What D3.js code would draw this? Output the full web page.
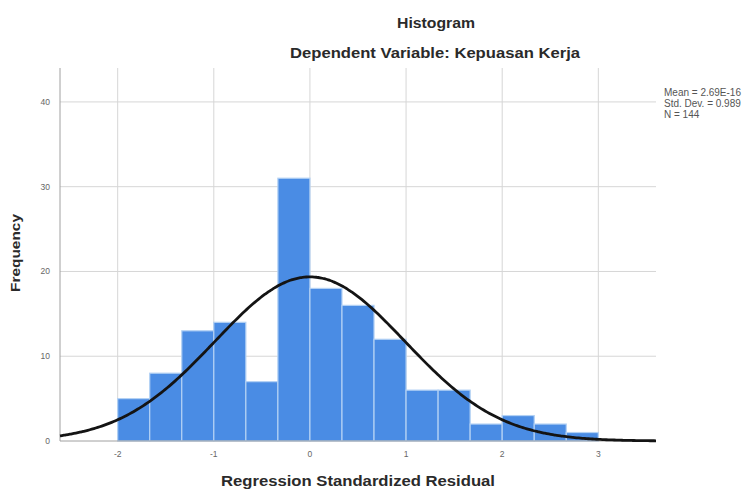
<!DOCTYPE html>
<html>
<head>
<meta charset="utf-8">
<script src="https://cdn.jsdelivr.net/npm/d3@7"></script>
<style>
  html, body { margin: 0; padding: 0; background: #fff; }
  svg { display: block; }
  text { font-family: "Liberation Sans", Arial, sans-serif; }
</style>
</head>
<body>
<svg id="chart" width="752" height="492"></svg>
<script>
// ---- data ----
const binStart = -2;
const binWidth = 1 / 3;
const counts = [5, 8, 13, 14, 7, 31, 18, 16, 12, 6, 6, 2, 3, 2, 1];
const xTicks = [-2, -1, 0, 1, 2, 3];
const yTicks = [0, 10, 20, 30, 40];
const fitMean = 2.69e-16;
const fitSd = 0.989;
const fitN = 144;
const legendLines = ["Mean = 2.69E-16", "Std. Dev. = 0.989", "N = 144"];
const titleText = "Histogram";
const subtitleText = "Dependent Variable: Kepuasan Kerja";
const xTitle = "Regression Standardized Residual";
const yTitle = "Frequency";

// ---- layout ----
const svg = d3.select("#chart");
const L = 60, R = 656, T = 68, B = 441;
const x = d3.scaleLinear().domain([-2.6, 3.6]).range([L, R]);
const y = d3.scaleLinear().domain([0, 44]).range([B, T]);

function fit(sel, w) {
  sel.attr("textLength", w).attr("lengthAdjust", "spacingAndGlyphs");
}

// gridlines
const grid = svg.append("g");
grid.selectAll("line.h").data(yTicks.filter(d => d > 0)).join("line")
  .attr("x1", L).attr("x2", R)
  .attr("y1", d => y(d)).attr("y2", d => y(d))
  .attr("stroke", "#d6d6d6").attr("stroke-width", 1);
grid.selectAll("line.v").data(xTicks).join("line")
  .attr("x1", d => x(d)).attr("x2", d => x(d))
  .attr("y1", T).attr("y2", B)
  .attr("stroke", "#d6d6d6").attr("stroke-width", 1);

// bars
const bins = counts.map((c, i) => ({ x0: binStart + i * binWidth, x1: binStart + (i + 1) * binWidth, c }));
svg.append("g").selectAll("rect").data(bins).join("rect")
  .attr("x", d => x(d.x0))
  .attr("width", d => x(d.x1) - x(d.x0))
  .attr("y", d => y(d.c))
  .attr("height", d => y(0) - y(d.c))
  .attr("fill", "#4a8ce4")
  .attr("stroke", "#b3d1f4")
  .attr("stroke-width", 1.2);

// axes lines
svg.append("line").attr("x1", L).attr("x2", L).attr("y1", T).attr("y2", B)
  .attr("stroke", "#a0a0a0").attr("stroke-width", 1);
svg.append("line").attr("x1", L).attr("x2", R).attr("y1", B).attr("y2", B)
  .attr("stroke", "#a0a0a0").attr("stroke-width", 1);

// normal curve
const pdf = v => Math.exp(-0.5 * Math.pow((v - fitMean) / fitSd, 2)) / (fitSd * Math.sqrt(2 * Math.PI));
const dom = x.domain();
const pts = d3.range(0, 301).map(i => dom[0] + (dom[1] - dom[0]) * i / 300);
svg.append("path")
  .datum(pts)
  .attr("d", d3.line().x(v => x(v)).y(v => y(fitN * binWidth * pdf(v))).curve(d3.curveBasis))
  .attr("fill", "none").attr("stroke", "#141414").attr("stroke-width", 2.8);

// tick labels
svg.append("g").selectAll("text").data(yTicks).join("text")
  .attr("x", 50).attr("y", d => y(d) + 3)
  .attr("text-anchor", "end").attr("font-size", 8.5).attr("fill", "#666")
  .text(d => d);
svg.append("g").selectAll("text").data(xTicks).join("text")
  .attr("x", d => x(d)).attr("y", 457)
  .attr("text-anchor", "middle").attr("font-size", 8.5).attr("fill", "#666")
  .text(d => d);

// titles
svg.append("text").attr("x", 436).attr("y", 28).attr("text-anchor", "middle")
  .attr("font-size", 14).attr("font-weight", "bold").attr("fill", "#2a2a2a")
  .text(titleText).call(fit, 78);
svg.append("text").attr("x", 435).attr("y", 58).attr("text-anchor", "middle")
  .attr("font-size", 14).attr("font-weight", "bold").attr("fill", "#2a2a2a")
  .text(subtitleText).call(fit, 290);
svg.append("text").attr("x", 358).attr("y", 486).attr("text-anchor", "middle")
  .attr("font-size", 14).attr("font-weight", "bold").attr("fill", "#2a2a2a")
  .text(xTitle).call(fit, 274);
svg.append("text").attr("transform", "translate(20,253) rotate(-90)")
  .attr("text-anchor", "middle")
  .attr("font-size", 13).attr("font-weight", "bold").attr("fill", "#2a2a2a")
  .text(yTitle).call(fit, 78);

// legend
svg.append("g").selectAll("text").data(legendLines).join("text")
  .attr("x", 664).attr("y", (d, i) => 96 + i * 11)
  .attr("font-size", 10).attr("fill", "#555")
  .text(d => d);
</script>
</body>
</html>
